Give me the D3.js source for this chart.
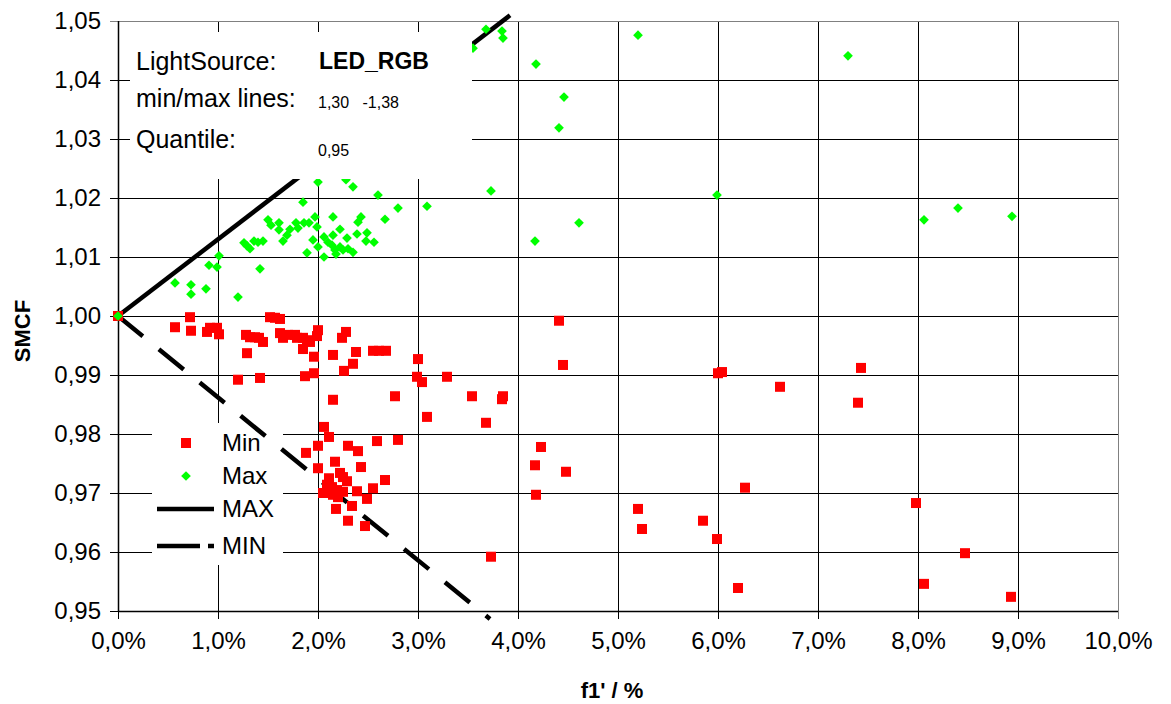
<!DOCTYPE html>
<html>
<head>
<meta charset="utf-8">
<script src="https://cdn.jsdelivr.net/npm/d3@7"></script>
<style>
  html, body { margin: 0; padding: 0; background: #fff; }
  svg { display: block; font-family: "Liberation Sans", Arial, sans-serif; }
</style>
</head>
<body>
<svg id="chart" width="1171" height="704"></svg>
<script>
// ---------------- data ----------------
// f1' in percent, SMCF value
const minX = [0.00,0.57,0.72,0.73,0.89,0.92,0.99,1.01,1.20,1.28,1.32,1.37,1.41,1.45,1.29,1.42,1.52,1.57,1.62,1.62,1.65,1.70,1.77,1.79,1.85,1.89,1.92,1.85,1.87,1.96,1.96,2.00,1.99,2.15,2.15,2.24,2.28,2.35,2.26,2.38,2.55,2.61,2.68,2.77,2.80,3.00,2.99,3.04,3.29,3.09,3.54,3.85,3.84,3.68,3.73,4.41,4.45,4.23,4.17,4.48,4.18,5.20,5.24,5.85,5.99,6.00,6.04,6.20,6.27,6.62,7.43,7.40,7.98,8.06,8.47,8.93,
  2.06,2.11,2.00,1.88,2.30,2.40,2.59,2.17,2.00,2.43,2.22,2.25,2.29,2.67,2.11,2.09,2.14,2.19,2.05,2.15,2.20,2.25,2.39,2.55,2.49,2.34,2.18,2.30,2.47];
const minY = [1.0000,0.9981,0.9998,0.9975,0.9973,0.9980,0.9980,0.9969,0.9892,0.9968,0.9964,0.9964,0.9963,0.9956,0.9937,0.9895,0.9998,0.9997,0.9995,0.9971,0.9963,0.9968,0.9968,0.9963,0.9963,0.9959,0.9956,0.9944,0.9898,0.9903,0.9931,0.9976,0.9966,0.9934,0.9858,0.9963,0.9973,0.9919,0.9907,0.9939,0.9941,0.9941,0.9941,0.9864,0.9790,0.9927,0.9897,0.9888,0.9897,0.9829,0.9864,0.9864,0.9859,0.9819,0.9592,0.9992,0.9917,0.9778,0.9747,0.9736,0.9697,0.9673,0.9639,0.9653,0.9622,0.9903,0.9905,0.9539,0.9709,0.9880,0.9912,0.9853,0.9683,0.9546,0.9598,0.9524,
  0.9812,0.9795,0.9780,0.9768,0.9780,0.9771,0.9788,0.9753,0.9742,0.9744,0.9734,0.9727,0.9720,0.9722,0.9725,0.9714,0.9710,0.9705,0.9700,0.9697,0.9693,0.9702,0.9703,0.9708,0.9690,0.9678,0.9673,0.9653,0.9644];

const maxX = [0.00,0.57,0.73,0.73,0.88,1.20,0.91,0.99,1.01,1.26,1.29,1.32,1.36,1.40,1.45,1.42,1.50,1.53,1.61,1.61,1.65,1.69,1.72,1.78,1.80,1.86,1.91,1.97,1.99,1.85,1.89,1.95,2.00,2.06,2.06,2.10,2.14,2.15,2.17,2.18,2.22,2.22,2.25,2.29,2.30,2.35,2.15,2.40,2.43,2.39,2.49,2.48,2.56,2.67,2.80,2.60,2.35,2.28,2.00,3.09,3.73,4.18,4.46,4.41,5.20,7.30,3.68,3.84,3.85,3.55,5.99,4.61,4.17,8.06,8.40,8.94];
const maxY = [1.0000,1.0056,1.0053,1.0037,1.0046,1.0032,1.0086,1.0083,1.0102,1.0124,1.0119,1.0114,1.0127,1.0125,1.0127,1.0080,1.0163,1.0154,1.0158,1.0146,1.0127,1.0137,1.0147,1.0158,1.0149,1.0158,1.0158,1.0168,1.0151,1.0193,1.0107,1.0129,1.0117,1.0134,1.0100,1.0125,1.0120,1.0137,1.0112,1.0105,1.0147,1.0117,1.0112,1.0132,1.0114,1.0108,1.0168,1.0159,1.0168,1.0139,1.0141,1.0127,1.0125,1.0164,1.0183,1.0205,1.0219,1.0231,1.0227,1.0186,1.0212,1.0427,1.0371,1.0319,1.0476,1.0441,1.0486,1.0483,1.0471,1.0454,1.0205,1.0158,1.0127,1.0163,1.0183,1.0169];

// limit lines: slope and x extent (percent)
const lineNames = ["MAX", "MIN"];
const lineSlopes = [1.30, -1.38];
const lineXEnd = [3.92, 3.72];

const xTicks = [0,1,2,3,4,5,6,7,8,9,10];
const yTicks = [0.95,0.96,0.97,0.98,0.99,1.00,1.01,1.02,1.03,1.04,1.05];

const legendLabels = ["Min", "Max", "MAX", "MIN"];
const infoLabels = ["LightSource:", "min/max lines:", "Quantile:"];
const infoValues = ["LED_RGB", "1,30   -1,38", "0,95"];

// ---------------- drawing ----------------
const svg = d3.select("#chart");
const L = 118, R = 1118, T = 21, B = 611;
const x = d3.scaleLinear().domain([0, 10]).range([L, R]);
const y = d3.scaleLinear().domain([0.95, 1.05]).range([B, T]);

const comma = s => s.replace(".", ",");

// gridlines
const grid = svg.append("g");
grid.selectAll("line.v").data(xTicks).join("line")
  .attr("x1", d => Math.round(x(d)) + 0.5).attr("x2", d => Math.round(x(d)) + 0.5)
  .attr("y1", T).attr("y2", B + 8)
  .attr("stroke", d => d === 10 ? "#808080" : "#000").attr("stroke-width", 1);
grid.selectAll("line.h").data(yTicks).join("line")
  .attr("y1", d => Math.round(y(d)) + 0.5).attr("y2", d => Math.round(y(d)) + 0.5)
  .attr("x1", L - 8).attr("x2", R)
  .attr("stroke", d => d === 1.05 ? "#808080" : "#000").attr("stroke-width", 1);
// axes lines
svg.append("line").attr("x1", L + 0.5).attr("x2", L + 0.5).attr("y1", T).attr("y2", B)
  .attr("stroke", "#000").attr("stroke-width", 1.5);
svg.append("line").attr("x1", L).attr("x2", R).attr("y1", B + 0.5).attr("y2", B + 0.5)
  .attr("stroke", "#000").attr("stroke-width", 1.5);

// tick labels via axes (domain/ticks hidden)
const xAxis = d3.axisBottom(x).tickValues(xTicks).tickSize(0).tickPadding(0)
  .tickFormat(d => comma(d.toFixed(1)) + "%");
const gx = svg.append("g").attr("transform", `translate(0,${B + 21})`).call(xAxis);
gx.select(".domain").remove();
gx.selectAll("text").attr("font-size", 24).attr("fill", "#000")
  .attr("font-family", "'Liberation Sans', Arial, sans-serif");

const yAxis = d3.axisLeft(y).tickValues(yTicks).tickSize(0).tickPadding(0)
  .tickFormat(d => comma(d.toFixed(2)));
const gy = svg.append("g").attr("transform", `translate(${L - 17},0)`).call(yAxis);
gy.select(".domain").remove();
gy.selectAll("text").attr("font-size", 24).attr("fill", "#000")
  .attr("font-family", "'Liberation Sans', Arial, sans-serif");

// axis titles
svg.append("text").attr("x", 612).attr("y", 698).attr("text-anchor", "middle")
  .attr("font-size", 22).attr("font-weight", "bold").text("f1' / %");
svg.append("text").attr("transform", "translate(30,331) rotate(-90)").attr("text-anchor", "middle")
  .attr("font-size", 22).attr("font-weight", "bold").text("SMCF");

// legend background
svg.append("rect").attr("x", 152).attr("y", 423).attr("width", 131).attr("height", 142).attr("fill", "#fff");

// limit lines (under the markers)
const lineGen = d3.line().x(d => x(d[0])).y(d => y(d[1]));
lineSlopes.forEach((s, k) => {
  const pts = [[0, 1], [lineXEnd[k], 1 + s * lineXEnd[k] / 100]];
  svg.append("path").attr("d", lineGen(pts)).attr("fill", "none")
    .attr("stroke", "#000").attr("stroke-width", 4.5)
    .attr("stroke-dasharray", k === 1 ? "32,20.7" : null);
});

// points
const ms = 10;
svg.append("g").selectAll("rect").data(d3.range(minX.length)).join("rect")
  .attr("x", i => x(minX[i]) - ms / 2).attr("y", i => y(minY[i]) - ms / 2)
  .attr("width", ms).attr("height", ms).attr("fill", "#ff0000");
const diamond = d3.symbol().type(d3.symbolDiamond2).size(60);
svg.append("g").selectAll("path").data(d3.range(maxX.length)).join("path")
  .attr("transform", i => `translate(${x(maxX[i])},${y(maxY[i])})`)
  .attr("d", diamond).attr("fill", "#00ff00");

// info box
svg.append("rect").attr("x", 130).attr("y", 32).attr("width", 342).attr("height", 147).attr("fill", "#fff");
const infoY = [70, 107, 148];
infoLabels.forEach((t, i) => {
  svg.append("text").attr("x", 136).attr("y", infoY[i]).attr("font-size", 25).text(t);
});
svg.append("text").attr("x", 319).attr("y", 69).attr("font-size", 23).attr("font-weight", "bold").text(infoValues[0]);
svg.append("text").attr("x", 318).attr("y", 108).attr("font-size", 16).attr("xml:space", "preserve")
  .style("white-space", "pre").text(infoValues[1]);
svg.append("text").attr("x", 318).attr("y", 156).attr("font-size", 16).text(infoValues[2]);

// legend content
const legY = [443, 476, 509, 546];
const lg = svg.append("g");
lg.append("rect").attr("x", 186 - 5).attr("y", legY[0] - 5).attr("width", 10).attr("height", 10).attr("fill", "#ff0000");
lg.append("path").attr("transform", `translate(186,${legY[1]})`).attr("d", diamond).attr("fill", "#00ff00");
lg.append("line").attr("x1", 157).attr("x2", 214).attr("y1", legY[2]).attr("y2", legY[2])
  .attr("stroke", "#000").attr("stroke-width", 4.5);
lg.append("line").attr("x1", 157).attr("x2", 214).attr("y1", legY[3]).attr("y2", legY[3])
  .attr("stroke", "#000").attr("stroke-width", 4.5).attr("stroke-dasharray", "43,8");
legendLabels.forEach((t, i) => {
  lg.append("text").attr("x", 222).attr("y", legY[i] + 8).attr("font-size", 24).text(t);
});
</script>
</body>
</html>
